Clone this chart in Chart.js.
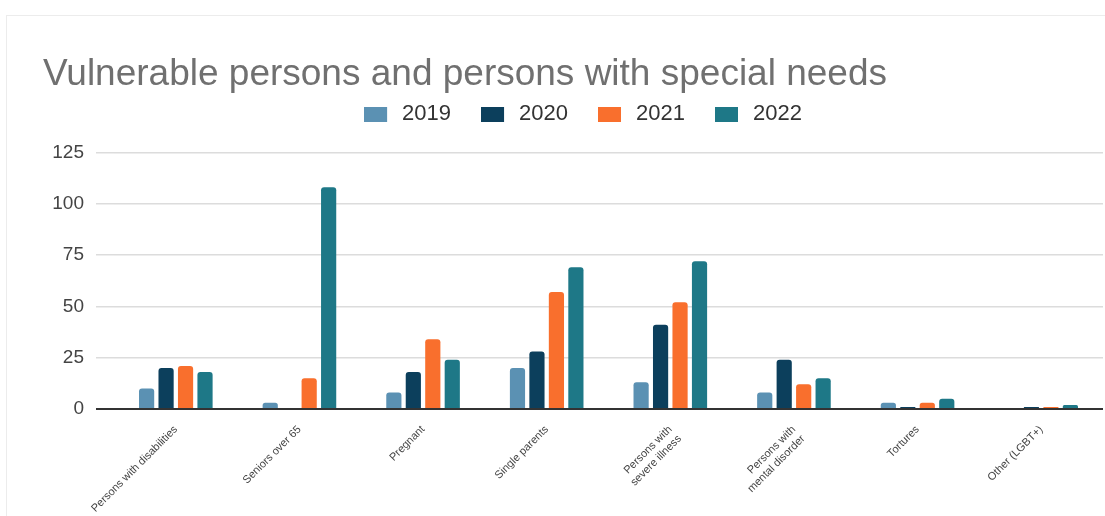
<!DOCTYPE html>
<html>
<head>
<meta charset="utf-8">
<script src="https://cdn.jsdelivr.net/npm/chart.js@4.4.1/dist/chart.umd.min.js"></script>
<style>
  body { margin: 0; background: #fff; }
  #wrap { position: relative; width: 1105px; height: 516px; }
  #card { position: absolute; left: 6px; top: 15px; right: 0; bottom: 0;
          border-top: 1px solid #ececec; border-left: 1px solid #ececec; }
</style>
</head>
<body>
<div id="wrap">
  <div id="card"></div>
  <canvas id="grafico"></canvas>
</div>
<script>
const categorias = [
  'Persons with disabilities',
  'Seniors over 65',
  'Pregnant',
  'Single parents',
  ['Persons with', 'severe illness'],
  ['Persons with', 'mental disorder'],
  'Tortures',
  'Other (LGBT+)'
];
const anos = ['2019', '2020', '2021', '2022'];
const valores2019 = [10, 3, 8, 20, 13, 8, 3, 0];
const valores2020 = [20, 0, 18, 28, 41, 24, 1, 1];
const valores2021 = [21, 15, 34, 57, 52, 12, 3, 1];
const valores2022 = [18, 108, 24, 69, 72, 15, 5, 2];
const cores = ['#5b91b3', '#0c3f5c', '#f96f2d', '#1e7887'];
const ticksY = [0, 25, 50, 75, 100, 125];

// legend swatch: wide box plus some empty room before the text
function amostra(cor) {
  const c = document.createElement('canvas');
  c.width = 27; c.height = 15;
  const g = c.getContext('2d');
  g.fillStyle = cor;
  g.fillRect(0, 0, 23, 15);
  return c;
}

// more room under the legend, and nudge it a little to the right
const ajusteLegenda = {
  id: 'ajusteLegenda',
  beforeInit(chart) {
    const fit = chart.legend.fit;
    chart.legend.fit = function () {
      fit.bind(chart.legend)();
      this.height += 17;
    };
  },
  afterLayout(chart) {
    chart.legend.left += 20;
  }
};

const series = [valores2019, valores2020, valores2021, valores2022];
const ctx = document.getElementById('grafico').getContext('2d');

new Chart(ctx, {
  type: 'bar',
  data: {
    labels: categorias,
    datasets: series.map((d, i) => ({
      label: anos[i],
      data: d,
      backgroundColor: cores[i],
      borderRadius: 3,
      borderSkipped: 'bottom',
      categoryPercentage: 0.63,
      barPercentage: 0.78,
      pointStyle: amostra(cores[i])
    }))
  },
  plugins: [ajusteLegenda],
  options: {
    responsive: true,
    maintainAspectRatio: false,
    animation: false,
    layout: { padding: { left: 43, right: 2, top: 53, bottom: 2 } },
    scales: {
      y: {
        min: 0,
        max: 125,
        afterBuildTicks: s => { s.ticks = ticksY.map(v => ({ value: v })); },
        afterFit: s => { s.width = 71; },
        border: { display: false },
        grid: {
          color: c => c.tick && c.tick.value === 0 ? '#333' : '#dcdcdc',
          lineWidth: c => c.tick && c.tick.value === 0 ? 2 : 1.5,
          tickLength: 18
        },
        ticks: {
          color: '#444',
          padding: 12,
          font: { family: 'Liberation Sans, Arial', size: 19 }
        }
      },
      x: {
        afterFit: s => { s.height = 105; },
        grid: { display: false },
        border: { display: false },
        ticks: {
          color: '#444',
          minRotation: 45,
          maxRotation: 45,
          autoSkip: false,
          padding: 6,
          font: { family: 'Liberation Sans, Arial', size: 11 }
        }
      }
    },
    plugins: {
      title: {
        display: true,
        text: 'Vulnerable persons and persons with special needs',
        align: 'start',
        color: '#707070',
        padding: { top: 0, bottom: -24 },
        font: { family: 'Liberation Sans, Arial', size: 37, weight: 'normal' }
      },
      legend: {
        position: 'top',
        align: 'center',
        labels: {
          usePointStyle: true,
          pointStyleWidth: 27,
          color: '#333',
          padding: 30,
          font: { family: 'Liberation Sans, Arial', size: 22 }
        }
      },
      tooltip: { enabled: false }
    }
  }
});
</script>
</body>
</html>
